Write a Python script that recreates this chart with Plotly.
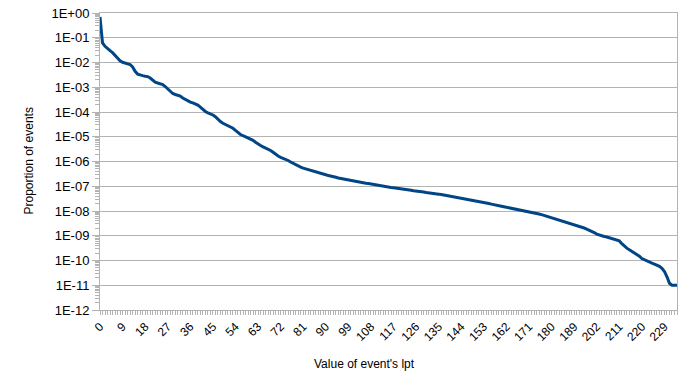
import plotly.graph_objects as go

###########################################################
# Data
###########################################################

# lpt values present in the data (a few between 189 and 202 are absent)
lpt_values = list(range(190)) + [190, 192, 193, 195, 196, 198, 199, 201] + list(range(202, 235))

proportion = [
    6.9e-1, 6.2e-2, 4.5e-2, 3.5e-2, 3.0e-2, 2.5e-2, 1.9e-2, 1.45e-2, 1.17e-2, 1.02e-2,
    9.3e-3, 8.9e-3, 8.3e-3, 6.6e-3, 4.4e-3, 3.4e-3, 3.1e-3, 2.95e-3, 2.8e-3, 2.7e-3,
    2.35e-3, 1.9e-3, 1.6e-3, 1.48e-3, 1.38e-3, 1.29e-3, 1.07e-3, 8.5e-4, 6.6e-4, 5.6e-4,
    5.1e-4, 4.8e-4, 4.4e-4, 3.7e-4, 3.16e-4, 2.75e-4, 2.5e-4, 2.35e-4, 2.15e-4, 1.9e-4,
    1.58e-4, 1.26e-4, 1.05e-4, 9.3e-5, 8.5e-5, 7.6e-5, 6.5e-5, 5.1e-5, 4.1e-5, 3.5e-5,
    3.1e-5, 2.8e-5, 2.5e-5, 2.2e-5, 1.8e-5, 1.48e-5, 1.23e-5, 1.1e-5, 1.0e-5, 9.3e-6,
    8.5e-6, 7.2e-6, 6.0e-6, 5.0e-6, 4.4e-6, 3.9e-6, 3.55e-6, 3.2e-6, 2.8e-6, 2.35e-6,
    1.95e-6, 1.66e-6, 1.48e-6, 1.35e-6, 1.23e-6, 1.1e-6, 9.5e-7, 8.3e-7, 7.2e-7, 6.5e-7,
    5.9e-7, 5.4e-7, 5.0e-7, 4.7e-7, 4.4e-7, 4.1e-7, 3.7e-7, 3.5e-7, 3.2e-7, 3.0e-7,
    2.9e-7, 2.7e-7, 2.5e-7, 2.4e-7, 2.3e-7, 2.15e-7, 2.05e-7, 1.95e-7, 1.82e-7, 1.74e-7,
    1.66e-7, 1.62e-7, 1.55e-7, 1.48e-7, 1.45e-7, 1.38e-7, 1.32e-7, 1.29e-7, 1.23e-7, 1.17e-7,
    1.12e-7, 1.10e-7, 1.05e-7, 1.0e-7, 9.8e-8, 9.3e-8, 8.9e-8, 8.7e-8, 8.5e-8, 8.1e-8,
    7.9e-8, 7.6e-8, 7.4e-8, 7.1e-8, 6.9e-8, 6.6e-8, 6.5e-8, 6.2e-8, 6.0e-8, 5.9e-8,
    5.6e-8, 5.5e-8, 5.4e-8, 5.1e-8, 4.9e-8, 4.8e-8, 4.6e-8, 4.4e-8, 4.3e-8, 4.1e-8,
    3.9e-8, 3.7e-8, 3.6e-8, 3.5e-8, 3.3e-8, 3.2e-8, 3.1e-8, 3.0e-8, 2.9e-8, 2.7e-8,
    2.6e-8, 2.4e-8, 2.3e-8, 2.2e-8, 2.1e-8, 2.0e-8, 1.9e-8, 1.78e-8, 1.7e-8, 1.62e-8,
    1.55e-8, 1.48e-8, 1.41e-8, 1.38e-8, 1.32e-8, 1.26e-8, 1.2e-8, 1.17e-8, 1.12e-8, 1.07e-8,
    1.02e-8, 9.5e-9, 9.1e-9, 8.5e-9, 8.1e-9, 7.6e-9, 7.1e-9, 6.6e-9, 6.2e-9, 5.8e-9,
    5.4e-9, 5.1e-9, 4.8e-9, 4.5e-9, 4.2e-9, 3.8e-9, 3.5e-9, 3.2e-9, 2.95e-9, 2.75e-9,
    2.6e-9, 2.35e-9, 2.2e-9, 2.05e-9, 1.86e-9, 1.7e-9, 1.55e-9, 1.35e-9, 1.17e-9, 1.07e-9,
    1.0e-9, 9.3e-10, 8.9e-10, 8.3e-10, 7.8e-10, 7.4e-10, 6.9e-10, 6.2e-10, 4.8e-10, 3.7e-10,
    3.16e-10, 2.7e-10, 2.35e-10, 2.0e-10, 1.74e-10, 1.5e-10, 1.2e-10, 1.07e-10, 9.3e-11, 8.7e-11,
    7.9e-11, 7.2e-11, 6.6e-11, 5.8e-11, 4.8e-11, 3.6e-11, 2.2e-11, 1.2e-11, 1.0e-11, 1.0e-11,
    1.0e-11,
]

y_tick_values = [1e0, 1e-1, 1e-2, 1e-3, 1e-4, 1e-5, 1e-6, 1e-7, 1e-8, 1e-9, 1e-10, 1e-11, 1e-12]
y_tick_labels = ["1E+00", "1E-01", "1E-02", "1E-03", "1E-04", "1E-05", "1E-06",
                 "1E-07", "1E-08", "1E-09", "1E-10", "1E-11", "1E-12"]

categories = [str(v) for v in lpt_values]
x_tick_labels = [c if i % 9 == 0 else "" for i, c in enumerate(categories)]

GRID = "#b3b3b3"
FONT = "Liberation Sans, Arial, sans-serif"

###########################################################
# Figure
###########################################################

fig = go.Figure()

fig.add_trace(
    go.Scatter(
        x=categories,
        y=proportion,
        mode="lines",
        line=dict(color="#004586", width=3),
        showlegend=False
    )
)

fig.update_layout(
    width=690,
    height=391,
    paper_bgcolor="white",
    plot_bgcolor="white",
    margin=dict(l=100, r=13, t=13, b=81),
    font=dict(family=FONT, size=12, color="#000000"),
    annotations=[
        dict(
            text="Value of event's lpt",
            xref="paper", yref="paper",
            x=(364 - 100) / 577, y=-54 / 297,
            xanchor="center", yanchor="middle",
            showarrow=False,
            font=dict(size=12, color="#000000")
        ),
        dict(
            text="Proportion of events",
            xref="paper", yref="paper",
            x=-72 / 577, y=0.5,
            xanchor="center", yanchor="middle",
            textangle=-90,
            showarrow=False,
            font=dict(size=12, color="#000000")
        )
    ]
)

fig.update_xaxes(
    type="category",
    range=[0, len(categories) - 1],
    tickmode="array",
    tickvals=categories,
    ticktext=x_tick_labels,
    tickangle=-45,
    ticks="outside",
    ticklen=4,
    tickcolor=GRID,
    tickfont=dict(size=12),
    showgrid=False,
    showline=True,
    linecolor=GRID,
    linewidth=1,
    mirror=True,
    zeroline=False,
    automargin=False
)

fig.update_yaxes(
    type="log",
    range=[-12, 0],
    tickmode="array",
    tickvals=y_tick_values,
    ticktext=y_tick_labels,
    ticks="outside",
    ticklen=7,
    tickcolor=GRID,
    tickfont=dict(size=13),
    showgrid=True,
    gridcolor=GRID,
    gridwidth=1,
    showline=True,
    linecolor=GRID,
    linewidth=1,
    mirror=True,
    zeroline=False,
    automargin=False,
    minor=dict(ticks="outside", ticklen=4, tickcolor=GRID, dtick="D1", showgrid=False)
)

# drop the page's default body margin so the figure sits at the window origin
fig.write_html(
    "out.html",
    config={"displayModeBar": False},
    post_script="document.body.style.margin='0';"
)
